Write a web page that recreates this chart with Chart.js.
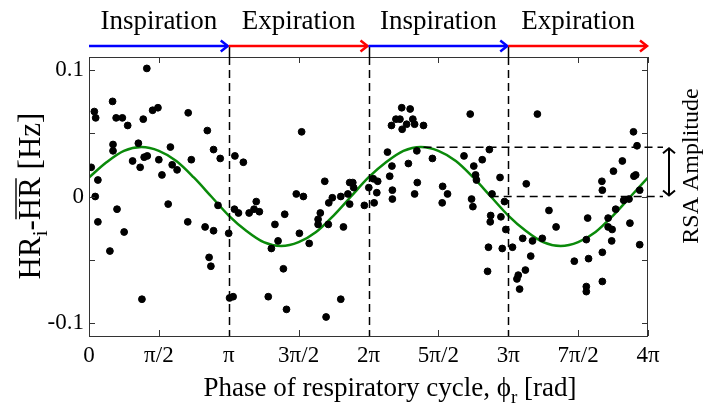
<!DOCTYPE html>
<html>
<head>
<meta charset="utf-8">
<script src="https://cdn.jsdelivr.net/npm/chart.js@4.4.0/dist/chart.umd.min.js"></script>
<style>
  html, body { margin: 0; padding: 0; background: #fff; }
  #wrap { width: 711px; height: 418px; }
</style>
</head>
<body>
<div id="wrap"><canvas id="c" width="711" height="418"></canvas></div>
<script>
// Heart-rate deviation vs respiratory phase
const phaseRad = [
  1.30, 0.53, 0.12, 0.15, 0.61, 0.75, 0.87, 1.43, 1.55, 1.22, 2.23, 2.66, 0.54, 0.54, 1.11, 1.83,
  2.80, 2.95, 3.28, 0.05, 0.20, 0.98, 1.15, 1.24, 1.31, 1.57, 1.64, 1.87, 1.98, 2.30, 0.14, 0.20,
  0.63, 0.47, 0.79, 1.19, 1.78, 2.22, 2.61, 2.80, 2.90, 3.14, 2.70, 2.74, 3.16, 3.24, 3.27, 3.36,
  3.47, 4.78, 5.30, 5.86, 5.93, 5.95, 6.29, 6.39, 6.49, 6.47, 4.66, 4.82, 5.47, 5.66, 5.82, 3.60,
  3.71, 3.76, 3.83, 4.40, 4.18, 4.25, 4.10, 4.73, 4.95, 4.37, 4.03, 4.44, 5.33, 5.66, 5.20, 5.15,
  5.15, 5.38, 5.72, 5.39, 5.86, 6.19, 6.41, 7.03, 7.22, 8.57, 6.90, 6.99, 7.14, 7.28, 7.32, 6.80,
  7.04, 7.52, 6.71, 7.37, 7.72, 8.43, 9.00, 8.84, 8.65, 6.81, 7.18, 6.76, 6.82, 7.38, 7.32, 7.95,
  8.06, 8.69, 8.71, 9.24, 9.06, 6.82, 8.60, 7.94, 8.63, 9.34, 9.03, 9.02, 9.26, 9.37, 8.98, 9.29,
  9.52, 8.96, 9.65, 9.62, 9.68, 10.08, 12.24, 12.32, 11.99, 11.79, 12.29, 12.25, 11.53, 11.54, 9.83, 12.38,
  9.75, 9.97, 10.19, 10.34, 10.50, 9.93, 9.81, 10.91, 11.21, 11.18, 11.23, 11.54, 11.54, 11.18, 11.18, 11.67,
  11.67, 11.76, 11.75, 11.84, 12.02, 12.14, 12.16, 12.38
];
const hrDiff = [
  0.101, 0.075, 0.067, 0.062, 0.062, 0.062, 0.056, 0.068, 0.070, 0.061, 0.066, 0.052, 0.041, 0.036, 0.042, 0.039,
  0.037, 0.030, 0.032, 0.023, 0.013, 0.028, 0.023, 0.031, 0.032, 0.029, 0.017, 0.025, 0.021, 0.029, 0.000, -0.020,
  -0.010, -0.043, -0.028, -0.081, -0.006, -0.020, -0.024, -0.027, -0.007, -0.029, -0.048, -0.055, -0.080, -0.079, -0.010, -0.013,
  0.027, 0.051, 0.012, 0.011, 0.011, 0.007, 0.007, 0.014, 0.012, 0.003, 0.002, 0.000, -0.001, 0.000, 0.002, -0.013,
  -0.010, -0.004, -0.012, -0.014, -0.022, -0.035, -0.041, -0.029, -0.037, -0.057, -0.079, -0.089, -0.095, -0.081, -0.013, -0.018,
  -0.022, -0.022, -0.024, -0.005, -0.006, -0.007, -0.005, 0.070, 0.069, 0.065, 0.061, 0.061, 0.057, 0.061, 0.057, 0.056,
  0.053, 0.056, 0.035, 0.036, 0.030, 0.032, 0.037, 0.029, 0.024, 0.024, 0.026, 0.016, 0.005, 0.011, 0.002, 0.008,
  0.002, 0.017, 0.013, 0.015, 0.002, -0.002, -0.002, -0.005, -0.008, -0.004, -0.015, -0.020, -0.016, -0.026, -0.040, -0.041,
  -0.040, -0.059, -0.062, -0.065, -0.073, 0.065, 0.051, 0.040, 0.028, 0.020, 0.017, 0.016, 0.012, 0.005, 0.010, 0.005,
  -0.033, -0.035, -0.033, -0.011, -0.024, -0.047, -0.058, -0.051, -0.017, -0.034, -0.049, -0.044, -0.067, -0.071, -0.075, -0.017,
  -0.024, -0.026, -0.035, -0.010, -0.003, -0.002, -0.021, -0.038
];

// fitted curve, sampled every pi/8
const fitPhase = [
  0, 0.393, 0.785, 1.178, 1.571, 1.963, 2.356, 2.749, 3.142, 3.534, 3.927, 4.320, 4.712, 5.105, 5.498, 5.890,
  6.283, 6.676, 7.069, 7.461, 7.854, 8.247, 8.639, 9.032, 9.425, 9.817, 10.210, 10.603, 10.996, 11.388, 11.781, 12.174, 12.566
];
const fitHr = [
  0.015, 0.027, 0.036, 0.039, 0.036, 0.028, 0.015, 0.000, -0.015, -0.027, -0.036, -0.039, -0.036, -0.028, -0.015, 0.000,
  0.015, 0.027, 0.036, 0.039, 0.036, 0.028, 0.015, 0.000, -0.015, -0.027, -0.036, -0.039, -0.036, -0.028, -0.015, 0.000, 0.015
];

const xTickValues = [0, 1.5708, 3.1416, 4.7124, 6.2832, 7.854, 9.4248, 10.9956, 12.5664];
const xTickLabels = ['0', 'π/2', 'π', '3π/2', '2π', '5π/2', '3π', '7π/2', '4π'];
const yTickValues = [-0.1, -0.05, 0, 0.05, 0.1];
const yTickLabels = ['-0.1', '', '0', '', '0.1'];

const cycleEdges = [0, 3.1416, 6.2832, 9.4248, 12.5664];
const cycleLabels = ['Inspiration', 'Expiration', 'Inspiration', 'Expiration'];

const rsaAmplitude = 0.0388;
const rsaPeakPhase = 7.52;
const rsaZeroPhase = 9.03;

const SERIF = "'Liberation Serif', 'DejaVu Serif', serif";

function arrowHead(ctx, x, y, dir, len, half) {
  ctx.beginPath();
  ctx.moveTo(x - dir * len, y - half);
  ctx.lineTo(x, y);
  ctx.lineTo(x - dir * len, y + half);
  ctx.stroke();
}

// draws text runs [text, font, dy, overline] centred on 0
function drawRuns(ctx, runs, cxMid, baseY) {
  let w = 0;
  runs.forEach(p => { ctx.font = p[1]; w += ctx.measureText(p[0]).width; });
  let cx = cxMid - w / 2;
  runs.forEach(p => {
    ctx.font = p[1];
    const pw = ctx.measureText(p[0]).width;
    ctx.fillText(p[0], cx, baseY + p[2]);
    if (p[3]) {
      ctx.lineWidth = 1.4;
      ctx.beginPath();
      ctx.moveTo(cx + 1, baseY - 24); ctx.lineTo(cx + pw - 1, baseY - 24);
      ctx.stroke();
    }
    cx += pw;
  });
}

const decorations = {
  id: 'decorations',
  afterDraw(chart) {
    const { ctx, chartArea: a, scales: { x, y } } = chart;
    ctx.save();

    // box + inward ticks
    ctx.strokeStyle = '#333';
    ctx.lineWidth = 1;
    ctx.strokeRect(a.left + 0.5, a.top + 0.5, a.right - a.left - 1, a.bottom - a.top);
    ctx.beginPath();
    xTickValues.forEach(v => {
      const px = Math.round(x.getPixelForValue(v)) + 0.5;
      ctx.moveTo(px, a.bottom); ctx.lineTo(px, a.bottom - 6);
      ctx.moveTo(px, a.top); ctx.lineTo(px, a.top + 6);
    });
    yTickValues.forEach(v => {
      const py = Math.round(y.getPixelForValue(v)) + 0.5;
      ctx.moveTo(a.left, py); ctx.lineTo(a.left + 6, py);
      ctx.moveTo(a.right, py); ctx.lineTo(a.right - 6, py);
    });
    ctx.stroke();

    // cycle boundaries
    const arrowY = a.top - 11;
    ctx.strokeStyle = '#000';
    ctx.lineWidth = 1.5;
    ctx.setLineDash([8, 5]);
    ctx.beginPath();
    cycleEdges.slice(1, -1).forEach(v => {
      const px = Math.round(x.getPixelForValue(v)) + 0.5;
      ctx.moveTo(px, a.top); ctx.lineTo(px, a.bottom);
    });
    ctx.stroke();
    ctx.setLineDash([]);
    ctx.beginPath();
    cycleEdges.slice(1, -1).forEach(v => {
      const px = Math.round(x.getPixelForValue(v)) + 0.5;
      ctx.moveTo(px, arrowY); ctx.lineTo(px, a.top);
    });
    ctx.stroke();

    // inspiration / expiration arrows
    ctx.lineWidth = 2.5;
    ctx.font = '27px ' + SERIF;
    ctx.textAlign = 'center';
    ctx.textBaseline = 'alphabetic';
    for (let i = 0; i < cycleLabels.length; i++) {
      const x0 = x.getPixelForValue(cycleEdges[i]);
      const x1 = x.getPixelForValue(cycleEdges[i + 1]);
      ctx.strokeStyle = i % 2 === 0 ? '#0000ff' : '#ff0000';
      ctx.beginPath();
      ctx.moveTo(x0, arrowY); ctx.lineTo(x1 - 1, arrowY);
      ctx.stroke();
      arrowHead(ctx, x1 - 1, arrowY, 1, 7, 5.5);
      ctx.fillStyle = '#000';
      ctx.fillText(cycleLabels[i], (x0 + x1) / 2, 29);
    }

    // RSA amplitude guides
    const yPeak = y.getPixelForValue(rsaAmplitude);
    const yZero = y.getPixelForValue(0);
    const xGuideEnd = a.right + 15;
    ctx.strokeStyle = '#000';
    ctx.lineWidth = 1.5;
    ctx.setLineDash([8, 5]);
    ctx.beginPath();
    ctx.moveTo(x.getPixelForValue(rsaPeakPhase), yPeak); ctx.lineTo(xGuideEnd, yPeak);
    ctx.moveTo(x.getPixelForValue(rsaZeroPhase), yZero); ctx.lineTo(xGuideEnd, yZero);
    ctx.stroke();
    ctx.setLineDash([]);
    const xArr = a.right + 21;
    ctx.lineWidth = 2;
    ctx.beginPath();
    ctx.moveTo(xArr, yPeak + 1); ctx.lineTo(xArr, yZero - 1);
    ctx.stroke();
    ctx.beginPath();
    ctx.moveTo(xArr - 6, yPeak + 6); ctx.lineTo(xArr, yPeak + 1); ctx.lineTo(xArr + 6, yPeak + 6);
    ctx.moveTo(xArr - 6, yZero - 6); ctx.lineTo(xArr, yZero - 1); ctx.lineTo(xArr + 6, yZero - 6);
    ctx.stroke();

    ctx.save();
    ctx.translate(698, 166);
    ctx.rotate(-Math.PI / 2);
    ctx.font = '24px ' + SERIF;
    ctx.fillStyle = '#000';
    ctx.textAlign = 'center';
    ctx.fillText('RSA Amplitude', 0, 0);
    ctx.restore();

    // axis titles
    ctx.fillStyle = '#000';
    ctx.textAlign = 'left';
    ctx.textBaseline = 'alphabetic';
    drawRuns(ctx, [
      ['Phase of respiratory cycle, \u03D5', '27px ' + SERIF, 0],
      ['r', '19px ' + SERIF, 7],
      [' [rad]', '27px ' + SERIF, 0]
    ], 390, 396);

    ctx.save();
    ctx.translate(40, 196);
    ctx.rotate(-Math.PI / 2);
    const big = '31px ' + SERIF, small = '21px ' + SERIF;
    drawRuns(ctx, [
      ['HR', big, 0, false], ['i', small, 7, false], ['-', big, 0, false],
      ['HR', big, 0, true], [' [Hz]', big, 0, false]
    ], 0, 0);
    ctx.restore();

    ctx.restore();
  }
};

new Chart(document.getElementById('c'), {
  type: 'scatter',
  data: {
    datasets: [
      {
        label: 'HR deviation',
        data: phaseRad.map((p, i) => ({ x: p, y: hrDiff[i] })),
        backgroundColor: '#000',
        borderColor: '#000',
        pointRadius: 3.4,
        pointHoverRadius: 3.4,
        order: 1
      },
      {
        label: 'Fit',
        data: fitPhase.map((p, i) => ({ x: p, y: fitHr[i] })),
        showLine: true,
        borderColor: '#0a8a0a',
        borderWidth: 2.5,
        pointRadius: 0,
        cubicInterpolationMode: 'monotone',
        order: 2
      }
    ]
  },
  options: {
    responsive: false,
    animation: false,
    events: [],
    layout: { padding: { left: 0, top: 57, right: 63, bottom: 0 } },
    plugins: { legend: { display: false }, tooltip: { enabled: false } },
    scales: {
      x: {
        type: 'linear',
        min: 0,
        max: 12.5664,
        grid: { display: false, drawTicks: false },
        border: { display: false },
        afterBuildTicks: s => { s.ticks = xTickValues.map(v => ({ value: v })); },
        afterFit: s => { s.height = 82; },
        ticks: {
          autoSkip: false,
          maxRotation: 0,
          padding: 6,
          color: '#000',
          font: { family: SERIF, size: 23 },
          callback: (v, i) => xTickLabels[i]
        }
      },
      y: {
        min: -0.11,
        max: 0.11,
        grid: { display: false, drawTicks: false },
        border: { display: false },
        afterBuildTicks: s => { s.ticks = yTickValues.map(v => ({ value: v })); },
        afterFit: s => { s.width = 89; },
        ticks: {
          padding: 5,
          color: '#000',
          font: { family: SERIF, size: 23 },
          callback: (v, i) => yTickLabels[i]
        }
      }
    }
  },
  plugins: [decorations]
});
</script>
</body>
</html>
